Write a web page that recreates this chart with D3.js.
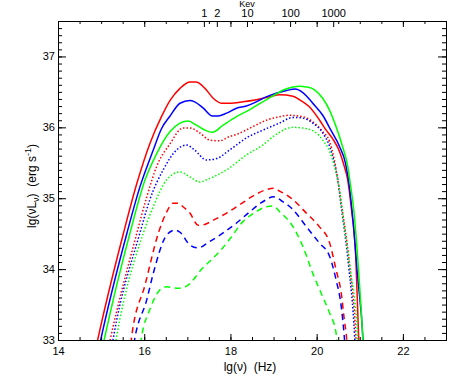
<!DOCTYPE html>
<html>
  <head>
    <meta charset="utf-8">
    <title>nuLnu spectra</title>
    <script src="https://d3js.org/d3.v7.min.js"></script>
    <style>
      body { margin: 0; background: #fff; }
      svg { font-family: "Liberation Sans", Arial, sans-serif; font-size: 11px; }
      .axis path { stroke: #000; }
      .axis line { stroke: #000; }
      .axis text { fill: #000; font-size: 11px; }
    </style>
  </head>
  <body>
    <svg id="chart" width="463" height="382"></svg>
    <script>
      // curves: [lg(nu), lg(nu L_nu)]
      const solidRed = [[14.85,32.8],[14.92,33.0],[15.52,34.51],[15.83,35.21],[16.13,35.77],[16.40,36.15],[16.60,36.38],[16.83,36.55],[17.06,36.64],[17.20,36.64],[17.41,36.55],[17.60,36.41],[17.79,36.34],[17.98,36.34],[18.29,36.36],[18.60,36.39],[18.90,36.43],[19.14,36.46],[19.45,36.44],[19.60,36.39],[19.83,36.29],[20.07,36.10],[20.22,35.96],[20.37,35.84],[20.53,35.66],[20.64,35.45],[20.72,35.26],[20.80,34.88],[20.91,34.13],[20.97,33.10],[20.99,32.8]];
      const solidBlue = [[14.92,32.8],[14.99,33.0],[15.60,34.51],[15.90,35.16],[16.21,35.68],[16.40,35.98],[16.60,36.16],[16.83,36.34],[17.06,36.38],[17.17,36.36],[17.37,36.27],[17.58,36.16],[17.71,36.16],[17.91,36.20],[18.14,36.27],[18.37,36.30],[18.60,36.36],[18.83,36.43],[19.06,36.48],[19.30,36.52],[19.50,36.54],[19.68,36.49],[19.91,36.34],[20.14,36.17],[20.33,35.96],[20.53,35.73],[20.67,35.49],[20.76,35.16],[20.84,34.70],[20.95,33.90],[21.07,33.05],[21.09,32.8]];
      const solidGreen = [[15.00,32.8],[15.07,33.0],[15.67,34.51],[16.02,35.26],[16.29,35.63],[16.60,35.94],[16.83,36.06],[17.02,36.09],[17.21,36.03],[17.41,35.96],[17.58,35.93],[17.83,36.03],[18.14,36.15],[18.45,36.25],[18.75,36.36],[19.06,36.47],[19.20,36.52],[19.45,36.57],[19.60,36.58],[19.76,36.57],[19.95,36.53],[20.14,36.41],[20.30,36.24],[20.45,36.01],[20.60,35.73],[20.72,35.45],[20.80,35.12],[20.86,34.84],[20.97,34.0],[21.07,33.03],[21.09,32.8]];
      const dottedRed = [[15.14,32.8],[15.21,33.0],[15.83,34.51],[16.06,35.02],[16.29,35.45],[16.60,35.77],[16.90,35.99],[17.06,35.99],[17.29,35.92],[17.52,35.82],[17.75,35.81],[17.98,35.87],[18.14,35.90],[18.52,36.01],[18.83,36.10],[19.14,36.15],[19.37,36.17],[19.68,36.15],[19.95,36.06],[20.14,35.94],[20.30,35.80],[20.41,35.54],[20.49,35.26],[20.57,34.93],[20.76,34.08],[20.91,33.05],[20.93,32.8]];
      const dottedBlue = [[15.22,32.8],[15.29,33.05],[15.90,34.51],[16.13,34.98],[16.44,35.40],[16.75,35.68],[16.98,35.75],[17.17,35.68],[17.44,35.54],[17.68,35.56],[17.98,35.68],[18.37,35.85],[18.75,35.96],[19.14,36.06],[19.45,36.14],[19.68,36.13],[19.91,36.06],[20.14,35.92],[20.30,35.73],[20.41,35.49],[20.49,35.26],[20.57,34.88],[20.74,34.05],[20.88,33.05],[20.90,32.8]];
      const dottedGreen = [[15.29,32.8],[15.36,33.05],[15.98,34.51],[16.21,34.88],[16.52,35.26],[16.83,35.37],[17.06,35.30],[17.29,35.23],[17.52,35.28],[17.91,35.40],[18.37,35.61],[18.75,35.75],[19.06,35.90],[19.45,36.00],[19.68,35.99],[19.95,35.94],[20.14,35.82],[20.30,35.66],[20.41,35.45],[20.53,35.12],[20.62,34.70],[20.78,34.0],[20.95,33.05],[20.97,32.8]];
      const dashedRed = [[15.66,32.8],[15.71,33.05],[16.02,33.78],[16.33,34.51],[16.50,34.78],[16.67,34.93],[16.80,34.93],[16.90,34.88],[17.06,34.79],[17.25,34.62],[17.40,34.63],[17.60,34.69],[17.91,34.79],[18.22,34.91],[18.52,35.03],[18.83,35.12],[19.00,35.14],[19.14,35.10],[19.45,34.98],[19.76,34.79],[20.06,34.60],[20.30,34.37],[20.45,33.99],[20.57,33.66],[20.64,33.29],[20.69,33.05],[20.72,32.8]];
      const dashedBlue = [[15.72,32.8],[15.79,33.05],[16.06,33.57],[16.21,33.94],[16.52,34.48],[16.71,34.55],[16.83,34.52],[17.06,34.34],[17.25,34.30],[17.52,34.39],[17.83,34.51],[18.14,34.65],[18.45,34.81],[18.75,34.95],[19.00,35.02],[19.22,34.95],[19.45,34.84],[19.76,34.60],[20.06,34.37],[20.30,34.18],[20.45,33.85],[20.57,33.47],[20.64,33.05],[20.67,32.8]];
      const dashedGreen = [[15.88,32.8],[15.94,33.05],[16.13,33.43],[16.37,33.71],[16.52,33.75],[16.79,33.73],[16.98,33.76],[17.14,33.85],[17.29,33.97],[17.52,34.11],[17.75,34.25],[17.98,34.42],[18.29,34.67],[18.60,34.81],[18.83,34.88],[19.00,34.89],[19.14,34.81],[19.45,34.60],[19.68,34.32],[19.91,33.94],[20.14,33.61],[20.30,33.38],[20.45,33.10],[20.50,32.8]];

      const xTicks = [14, 16, 18, 20, 22];
      const yTicks = [33, 34, 35, 36, 37];
      const keVTicks = [1, 2, 10, 100, 1000];
      const keVOffset = Math.log10(2.418e17); // lg(nu) of 1 keV

      const curves = [
        { data: solidRed, color: "#ff0000", dash: null },
        { data: solidBlue, color: "#0000ff", dash: null },
        { data: solidGreen, color: "#00ff00", dash: null },
        { data: dottedRed, color: "#ff0000", dash: "1.5,2" },
        { data: dottedBlue, color: "#0000ff", dash: "1.5,2" },
        { data: dottedGreen, color: "#00ff00", dash: "1.5,2" },
        { data: dashedRed, color: "#ff0000", dash: "6,4.5" },
        { data: dashedBlue, color: "#0000ff", dash: "6,4.5" },
        { data: dashedGreen, color: "#00ff00", dash: "6,4.5" }
      ];

      const margin = { top: 21, right: 17, bottom: 42, left: 58 };
      const width = 463, height = 382;
      const chart = d3.select("#chart");

      const x = d3.scaleLinear().domain([14, 23]).range([margin.left, width - margin.right]);
      const y = d3.scaleLinear().domain([33, 37.5]).range([height - margin.bottom, margin.top]);
      const xKeV = d3.scaleLog()
        .domain([Math.pow(10, 14 - keVOffset), Math.pow(10, 23 - keVOffset)])
        .range(x.range());

      chart.append("clipPath").attr("id", "plotClip")
        .append("rect")
          .attr("x", x(14)).attr("y", y(37.5))
          .attr("width", x(23) - x(14)).attr("height", y(33) - y(37.5));

      // curves
      const line = d3.line()
        .x(function(d) { return x(d[0]); })
        .y(function(d) { return y(d[1]); })
        .curve(d3.curveMonotoneX);
      chart.append("g").attr("clip-path", "url(#plotClip)")
        .selectAll("path")
          .data(curves)
        .enter().append("path")
          .attr("d", function(d) { return line(d.data); })
          .attr("fill", "none")
          .attr("stroke", function(d) { return d.color; })
          .attr("stroke-width", 1.5)
          .attr("stroke-dasharray", function(d) { return d.dash; });

      // minor ticks
      const xMinor = d3.range(14, 23.01, 0.5);
      const yMinor = d3.range(33, 37.51, 0.1);
      chart.append("g").attr("class", "axis")
        .attr("transform", "translate(0," + y(33) + ")")
        .call(d3.axisBottom(x).tickValues(xMinor).tickSize(-3).tickFormat(""));
      chart.append("g").attr("class", "axis")
        .attr("transform", "translate(0," + y(37.5) + ")")
        .call(d3.axisTop(x).tickValues(xMinor).tickSize(-3).tickFormat(""));
      chart.append("g").attr("class", "axis")
        .attr("transform", "translate(" + x(14) + ",0)")
        .call(d3.axisLeft(y).tickValues(yMinor).tickSize(-4).tickFormat(""));
      chart.append("g").attr("class", "axis")
        .attr("transform", "translate(" + x(23) + ",0)")
        .call(d3.axisRight(y).tickValues(yMinor).tickSize(-4).tickFormat(""));

      // major ticks
      chart.append("g").attr("class", "axis")
        .attr("transform", "translate(0," + y(33) + ")")
        .call(d3.axisBottom(x).tickValues(xTicks).tickSize(-6).tickPadding(7).tickFormat(d3.format("d")));
      chart.append("g").attr("class", "axis")
        .attr("transform", "translate(0," + y(37.5) + ")")
        .call(d3.axisTop(x).tickValues(xTicks).tickSize(-6).tickFormat(""));
      chart.append("g").attr("class", "axis")
        .attr("transform", "translate(" + x(14) + ",0)")
        .call(d3.axisLeft(y).tickValues(yTicks).tickSize(-8).tickPadding(3).tickFormat(d3.format("d")));
      chart.append("g").attr("class", "axis")
        .attr("transform", "translate(" + x(23) + ",0)")
        .call(d3.axisRight(y).tickValues(yTicks).tickSize(-8).tickFormat(""));

      // keV axis on top
      chart.append("g").attr("class", "axis")
        .attr("transform", "translate(0," + y(37.5) + ")")
        .call(d3.axisTop(xKeV).tickValues(keVTicks).tickSize(-6).tickPadding(4).tickFormat(d3.format("d")));
      chart.append("text")
        .attr("x", xKeV(10)).attr("y", 7)
        .attr("text-anchor", "middle")
        .attr("font-size", "9px")
        .text("Kev");

      // axis titles
      chart.append("text")
        .attr("x", 250).attr("y", 371)
        .attr("text-anchor", "middle")
        .style("white-space", "pre")
        .attr("font-size", "12px")
        .text("lg(\u03bd)  (Hz)");
      const yTitle = chart.append("text")
        .attr("transform", "translate(36,186) rotate(-90)")
        .attr("text-anchor", "middle")
        .attr("font-size", "12px")
        .style("white-space", "pre");
      yTitle.append("tspan").text("lg(\u03bdL");
      yTitle.append("tspan").attr("font-size", "9px").attr("dy", 3).text("\u03bd");
      yTitle.append("tspan").attr("dy", -3).text(")  (erg s");
      yTitle.append("tspan").attr("font-size", "9px").attr("dy", -5).text("-1");
      yTitle.append("tspan").attr("dy", 5).text(")");
    </script>
  </body>
</html>
